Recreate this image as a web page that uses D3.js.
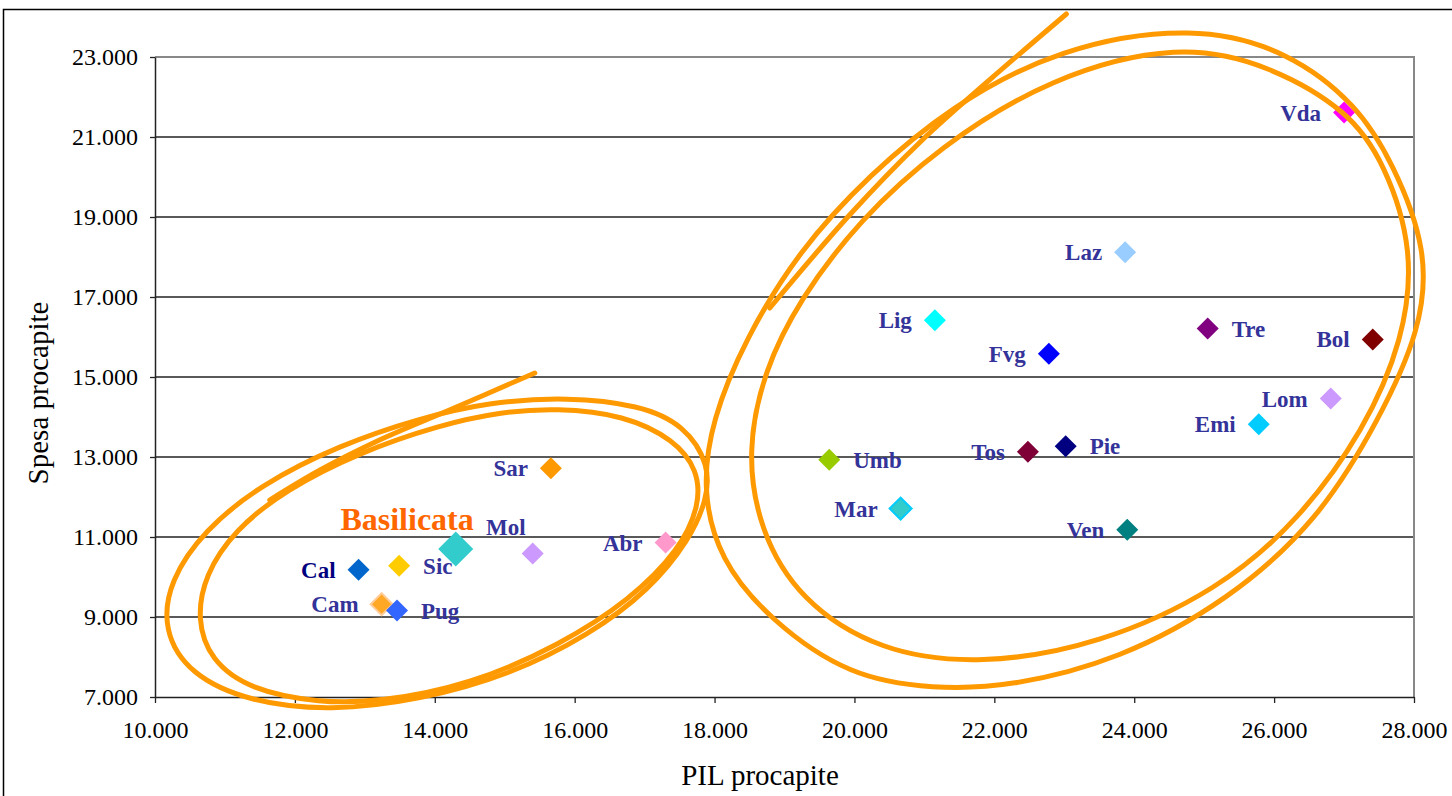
<!DOCTYPE html>
<html>
<head>
<meta charset="utf-8">
<script src="https://cdn.jsdelivr.net/npm/d3@7"></script>
<style>
body{margin:0;background:#fff;}
svg{display:block;font-family:"Liberation Serif","Times New Roman",serif;}
.tick text{font-family:"Liberation Serif","Times New Roman",serif;font-size:24px;fill:#000;}
</style>
</head>
<body>
<div id="chart"></div>
<script>
// regioni: PIL procapite (x) e spesa procapite (y)
var regioni = ["Vda","Laz","Lig","Fvg","Tre","Bol","Lom","Emi","Umb","Tos","Pie","Mar","Ven","Sar","Mol","Abr","Cal","Sic","Cam","Pug"];
var pil     = [27000,23870,21150,22780,25050,27410,26810,25780,19640,22480,23020,20660,23900,15660,15400,17300,12910,13490,13240,13460];
var spesa   = [21610,18120,16420,15580,16210,15940,14460,13820,12930,13130,13270,11710,11180,12720,10590,10860,10180,10280,9320,9160];
var colori  = ["#ff00ff","#99ccff","#00ffff","#0000ff","#800080","#800000","#cc99ff","#00ccff","#99cc00","#7f0037","#000080","#33cccc","#008080","#ff9900","#cc99ff","#ff99cc","#0066cc","#ffcc00","#ff9900","#3366ff"];
var lato    = ["l","l","l","l","r","l","l","l","r","l","r","l","l","l","t","l","l","r","l","r"];

var evidNome = ["Basilicata"];
var evidPil = [14300];
var evidSpesa = [10700];

var xTicks = [10000,12000,14000,16000,18000,20000,22000,24000,26000,28000];
var yTicks = [7000,9000,11000,13000,15000,17000,19000,21000,23000];

// annotazioni a mano (in unita' dei dati)
var codaSx = [[15430,15100],[14210,14175],[13210,13425],[12360,12675],[11640,11925]];
var anelloSx1 = [[15900,14500],[16930,14300],[17570,13800],[17930,12800],[17890,11925],[17640,10925],[17070,9675],[16210,8550],[15070,7550],[13790,6925],[12500,6650],[11360,6875],[10500,7550],[10110,8675],[10210,9925],[10710,11175],[11500,12300],[12640,13300],[13790,13975],[14790,14375]];
var anelloSx2 = [[15740,14225],[16710,14050],[17430,13425],[17760,12675],[17790,11800],[17500,10675],[16790,9425],[15790,8300],[14500,7300],[13210,6875],[12360,6850],[11360,7175],[10790,7925],[10600,8925],[10710,10050],[11140,11175],[11860,12175],[12930,13125],[14070,13800],[14930,14125]];
var codaDx = [[23030,24075],[21930,22425],[20970,20925],[19930,19050],[18790,16725]];
var anelloDx1 = [[24860,23800],[26210,23150],[27190,21800],[27700,20350],[28200,18175],[28100,16175],[27500,13925],[26640,11425],[25360,9425],[23790,7925],[22210,7250],[21140,7200],[19930,7500],[18790,8925],[18070,10425],[17820,12175],[17960,13925],[18430,15925],[19210,18175],[20210,20050],[21360,21750],[22930,23250]];
var anelloDx2 = [[24660,23350],[25930,22800],[27070,21650],[27580,20350],[28000,18175],[27850,15925],[27290,13675],[26360,11425],[25210,9675],[23500,8300],[21800,7800],[20360,8125],[19210,9425],[18640,11175],[18460,13150],[18710,15175],[19210,16925],[20070,18925],[21210,20750],[22790,22500]];

var width = 1452, height = 796;
var margin = {left:155, right:38, top:57, bottom:99};

var it = d3.formatLocale({decimal:",", thousands:".", grouping:[3], currency:["€",""]});
var fmt = it.format(",.0f");

var svg = d3.select("#chart").append("svg")
    .attr("width", width)
    .attr("height", height);

// cornice esterna
svg.append("rect")
    .attr("x", 3.5).attr("y", 9.5)
    .attr("width", width + 20).attr("height", height + 20)
    .attr("fill", "none").attr("stroke", "#000").attr("stroke-width", 1.5);

var x = d3.scaleLinear().domain([10000,28000]).range([margin.left, width - margin.right]);
var y = d3.scaleLinear().domain([7000,23000]).range([height - margin.bottom, margin.top]);

// griglia
svg.append("g").selectAll("line")
    .data(yTicks.slice(1, -1))
    .enter().append("line")
    .attr("x1", x(10000)).attr("x2", x(28000))
    .attr("y1", function(d){ return y(d); }).attr("y2", function(d){ return y(d); })
    .attr("stroke", "#222").attr("stroke-width", 1.3);

// bordo grigio area del grafico
svg.append("path")
    .attr("d", "M" + x(10000) + "," + y(23000) + "H" + x(28000) + "V" + y(7000))
    .attr("fill", "none").attr("stroke", "#888").attr("stroke-width", 2);

var xAxis = d3.axisBottom(x).tickValues(xTicks).tickFormat(fmt).tickSize(6).tickSizeOuter(0);
var yAxis = d3.axisLeft(y).tickValues(yTicks).tickFormat(fmt).tickSize(5).tickSizeOuter(0);

var gx = svg.append("g")
    .attr("transform", "translate(0," + y(7000) + ")")
    .call(xAxis);
var gy = svg.append("g")
    .attr("transform", "translate(" + x(10000) + ",0)")
    .call(yAxis);

[gx, gy].forEach(function(g){
    g.attr("font-family", null).attr("font-size", null);
    g.select(".domain").attr("stroke", "#222").attr("stroke-width", 1.5);
    g.selectAll(".tick line").attr("stroke", "#222").attr("stroke-width", 1.3);
});
gx.selectAll(".tick text").attr("dy", 0).attr("y", 41);
gy.selectAll(".tick text").attr("x", -17).attr("dy", "0.33em");

// titoli assi
svg.append("text")
    .attr("x", 760).attr("y", 785)
    .attr("text-anchor", "middle")
    .attr("font-size", 29)
    .text("PIL procapite");
svg.append("text")
    .attr("transform", "translate(48,393) rotate(-90)")
    .attr("text-anchor", "middle")
    .attr("font-size", 29)
    .text("Spesa procapite");

// punti
var diamond = d3.symbol().type(d3.symbolSquare).size(242);
var punti = svg.append("g");
punti.selectAll("path")
    .data(regioni)
    .enter().append("path")
    .attr("d", diamond)
    .attr("transform", function(d, i){ return "translate(" + x(pil[i]) + "," + y(spesa[i]) + ") rotate(45)"; })
    .attr("fill", function(d, i){ return colori[i]; })
    .attr("fill-opacity", function(d){ return d === "Cam" ? 0.85 : 1; })
    .attr("stroke", function(d){ return d === "Cam" ? "#ffcc99" : (d === "Mar" ? "#00ccff" : "none"); })
    .attr("stroke-width", 2);

punti.selectAll(".evid")
    .data(evidNome)
    .enter().append("path")
    .attr("class", "evid")
    .attr("d", d3.symbol().type(d3.symbolSquare).size(612))
    .attr("transform", function(d, i){ return "translate(" + x(evidPil[i]) + "," + y(evidSpesa[i]) + ") rotate(45)"; })
    .attr("fill", "#33cccc");

// annotazioni arancioni
var linea = d3.line()
    .x(function(d){ return x(d[0]); })
    .y(function(d){ return y(d[1]); });
var ann = svg.append("g")
    .attr("fill", "none")
    .attr("stroke", "#ff9900")
    .attr("stroke-width", 5)
    .attr("stroke-linecap", "round");
[codaSx, codaDx].forEach(function(c){
    ann.append("path").attr("d", linea.curve(d3.curveCatmullRom)(c));
});
[anelloSx1, anelloSx2, anelloDx1, anelloDx2].forEach(function(c){
    ann.append("path").attr("d", linea.curve(d3.curveBasisClosed)(c));
});

// etichette
svg.append("g").selectAll("text")
    .data(regioni)
    .enter().append("text")
    .attr("x", function(d, i){
        var px = x(pil[i]);
        if (lato[i] === "r") return px + 24;
        if (lato[i] === "t") return px - 7;
        return px - 23;
    })
    .attr("y", function(d, i){
        var py = y(spesa[i]);
        return lato[i] === "t" ? py - 18 : py + 8;
    })
    .attr("text-anchor", function(d, i){ return lato[i] === "r" ? "start" : "end"; })
    .attr("font-size", 23)
    .attr("font-weight", "bold")
    .attr("fill", function(d){ return d === "Cal" ? "#000080" : "#333399"; })
    .text(function(d){ return d; });

svg.append("g").selectAll("text")
    .data(evidNome)
    .enter().append("text")
    .attr("x", function(d, i){ return x(evidPil[i]) + 18; })
    .attr("y", function(d, i){ return y(evidSpesa[i]) - 19; })
    .attr("text-anchor", "end")
    .attr("font-size", 32)
    .attr("font-weight", "bold")
    .attr("fill", "#ff6600")
    .text(function(d){ return d; });
</script>
</body>
</html>
